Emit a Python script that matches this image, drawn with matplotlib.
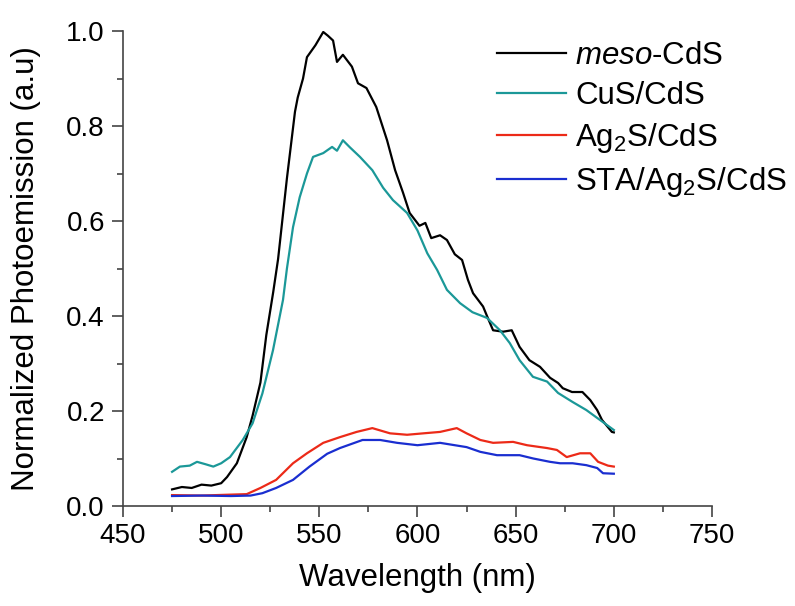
import matplotlib
matplotlib.use("Agg")
import matplotlib.pyplot as plt
from matplotlib.ticker import MultipleLocator

plt.rcParams['font.family'] = ['Liberation Sans', 'DejaVu Sans']
plt.rcParams['mathtext.fontset'] = 'custom'
plt.rcParams['mathtext.rm'] = 'Liberation Sans'
plt.rcParams['mathtext.it'] = 'Liberation Sans:italic'

# Widma fotoemisji
wl_meso = [475, 480, 485, 490, 495, 500, 503, 508, 513, 516, 520, 523, 526.5, 529,
           533.5, 537.6, 539, 541.7, 543.7, 548, 552, 554.4, 557, 559, 562, 566.6,
           569.7, 574, 579, 584.5, 588.6, 592.6, 596, 601, 604, 607, 611.5, 615, 619,
           622.7, 625.7, 628.3, 633.4, 635.4, 638.5, 643.6, 648, 652, 657, 662.4,
           667.5, 671.6, 674, 678.7, 684, 688, 691.5, 694, 699, 700]
meso = [0.035, 0.04, 0.038, 0.045, 0.043, 0.048, 0.061, 0.09, 0.145, 0.19, 0.26, 0.36,
        0.45, 0.52, 0.69, 0.83, 0.86, 0.90, 0.945, 0.97, 0.998, 0.99, 0.98, 0.935, 0.95,
        0.925, 0.89, 0.88, 0.84, 0.77, 0.707, 0.66, 0.617, 0.59, 0.596, 0.564, 0.57,
        0.56, 0.53, 0.518, 0.476, 0.448, 0.42, 0.40, 0.37, 0.367, 0.37, 0.335, 0.307,
        0.293, 0.27, 0.259, 0.248, 0.24, 0.24, 0.223, 0.202, 0.181, 0.156, 0.155]

wl_cus = [475, 479, 484, 487.7, 492, 496, 500, 504.5, 511, 516, 521, 526.4, 531.5,
          533.5, 536.6, 540, 543.7, 546.8, 552, 556.5, 559, 562, 565.6, 570.7, 577,
          582.5, 587.5, 594.7, 600, 605, 610, 615, 621.7, 628, 635.4, 642, 647, 652,
          658.8, 666, 671.6, 679, 686, 693, 700]
cus = [0.072, 0.083, 0.085, 0.093, 0.088, 0.083, 0.09, 0.103, 0.139, 0.174, 0.237,
       0.328, 0.434, 0.50, 0.587, 0.65, 0.70, 0.735, 0.743, 0.756, 0.748, 0.77, 0.755,
       0.735, 0.707, 0.67, 0.644, 0.617, 0.58, 0.532, 0.497, 0.455, 0.427, 0.408,
       0.396, 0.37, 0.343, 0.307, 0.272, 0.262, 0.238, 0.219, 0.202, 0.181, 0.16]

wl_ag = [475, 490, 505, 513, 520, 528, 536.6, 543.7, 552, 560.5, 569, 577, 586, 594.7,
         603, 611.5, 620, 625, 632, 638.5, 648.7, 655.8, 666, 671, 676, 682.8, 688,
         692, 697, 700]
ag = [0.023, 0.022, 0.024, 0.025, 0.038, 0.055, 0.09, 0.111, 0.133, 0.145, 0.156,
      0.164, 0.153, 0.15, 0.153, 0.156, 0.164, 0.153, 0.139, 0.133, 0.135, 0.128,
      0.122, 0.118, 0.103, 0.111, 0.111, 0.093, 0.085, 0.083]

wl_sta = [475, 490, 505, 515, 521, 528, 536.6, 545, 554, 560.5, 572, 581, 589.6, 600,
          611.5, 625, 632, 640.5, 652, 659, 667.5, 672.6, 679, 686, 691.5, 694.5, 700]
sta = [0.021, 0.022, 0.021, 0.022, 0.027, 0.038, 0.055, 0.083, 0.11, 0.122, 0.139,
       0.139, 0.133, 0.128, 0.133, 0.124, 0.114, 0.107, 0.107, 0.10, 0.093, 0.09, 0.09,
       0.086, 0.08, 0.069, 0.068]

labels = [r'$\mathit{meso}$-CdS', 'CuS/CdS', r'Ag$_2$S/CdS', r'STA/Ag$_2$S/CdS']
colors = ['black', '#1b9898', '#ec2a18', '#1a2ed0']

fig = plt.figure(figsize=(7.95, 6.06), dpi=100)
ax = fig.add_axes([0.1547, 0.165, 0.7409, 0.7838])

series = [(wl_meso, meso), (wl_cus, cus), (wl_ag, ag), (wl_sta, sta)]
for (x, y), lab, col in zip(series, labels, colors):
    ax.plot(x, y, color=col, lw=1.6, label=lab)

ax.set_xlim(450, 750)
ax.set_ylim(0, 1.0)
ax.xaxis.set_major_locator(MultipleLocator(50))
ax.xaxis.set_minor_locator(MultipleLocator(25))
ax.yaxis.set_major_locator(MultipleLocator(0.2))
ax.yaxis.set_minor_locator(MultipleLocator(0.1))
ax.yaxis.set_major_formatter(matplotlib.ticker.FormatStrFormatter('%.1f'))

for s in ['top', 'right']:
    ax.spines[s].set_visible(False)
for s in ['left', 'bottom']:
    ax.spines[s].set_color('#444444')
    ax.spines[s].set_linewidth(1.2)

ax.tick_params(which='major', direction='out', length=8, width=1.2, color='#444444',
               labelsize=20, pad=4)
ax.tick_params(which='minor', direction='out', length=4, width=1.2, color='#444444')
ax.tick_params(axis='y', pad=5)

ax.set_xlabel('Wavelength (nm)', fontsize=22.5, labelpad=10)
ax.set_ylabel('Normalized Photoemission (a.u)', fontsize=22.5, labelpad=18)

fig.legend(loc='upper left', bbox_to_anchor=(0.625, 0.932), frameon=False,
           fontsize=22.5, handlelength=2.2, handletextpad=0.3, labelspacing=0.32,
           borderpad=0, borderaxespad=0)

fig.savefig('out.png', dpi=100)
